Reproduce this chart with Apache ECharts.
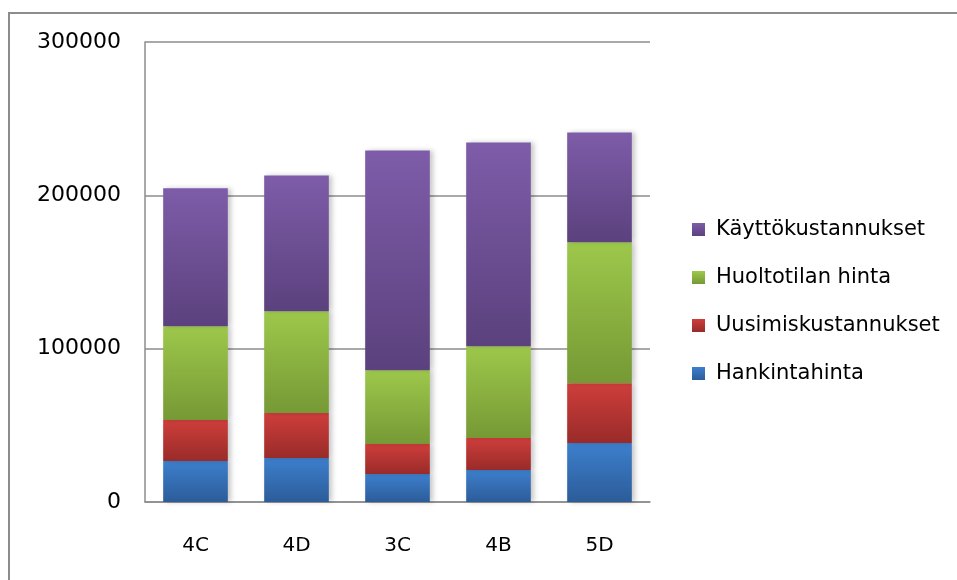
<!DOCTYPE html>
<html>
<head>
<meta charset="utf-8">
<script src="https://cdn.jsdelivr.net/npm/echarts@6/dist/echarts.min.js"></script>
<style>
  html, body { margin: 0; padding: 0; background: #fff; }
  #chart { width: 957px; height: 580px; }
</style>
</head>
<body>
<div id="chart"></div>
<script>
// Vaihtoehdot ja kustannuserät (euroa)
const categories = ['4C', '4D', '3C', '4B', '5D'];
const hankintahinta = [26700, 28700, 18200, 20800, 38400];
const uusimiskustannukset = [26700, 29300, 19600, 20900, 39100];
const huoltotilanHinta = [61300, 66400, 48200, 59900, 91900];
const kayttokustannukset = [89900, 88600, 143300, 132900, 71600];
const yTicks = [0, 100000, 200000, 300000];

const font = 'DejaVu Sans';

function grad(top, bottom) {
  return new echarts.graphic.LinearGradient(0, 0, 0, 1, [
    { offset: 0, color: top },
    { offset: 1, color: bottom }
  ]);
}

function series(name, data, top, bottom) {
  return {
    name: name,
    type: 'bar',
    stack: 'kustannukset',
    data: data,
    barWidth: '64%',
    itemStyle: {
      color: grad(top, bottom),
      shadowColor: 'rgba(0,0,0,0.22)',
      shadowBlur: 5,
      shadowOffsetX: 3,
      shadowOffsetY: 0
    },
    emphasis: { disabled: true }
  };
}

const chart = echarts.init(document.getElementById('chart'), null, { renderer: 'canvas' });
chart.setOption({
  animation: false,
  backgroundColor: '#ffffff',
  graphic: [{
    type: 'rect',
    shape: { x: 9, y: 13, width: 1000, height: 1000 },
    style: { fill: 'none', stroke: '#8c8c8c', lineWidth: 2 },
    silent: true
  }],
  grid: { left: 145, right: 307, top: 42, bottom: 78, containLabel: false },
  legend: {
    orient: 'vertical',
    left: 692,
    top: 219,
    padding: 0,
    itemWidth: 13,
    itemHeight: 13,
    itemGap: 27,
    icon: 'rect',
    textStyle: { fontFamily: font, fontSize: 21, color: '#000', padding: [0, 0, 0, 6] },
    data: ['Käyttökustannukset', 'Huoltotilan hinta', 'Uusimiskustannukset', 'Hankintahinta']
  },
  xAxis: {
    type: 'category',
    data: categories,
    axisLine: { lineStyle: { color: '#8c8c8c', width: 1.5 } },
    axisTick: { show: false },
    axisLabel: { fontFamily: font, fontSize: 20, color: '#000', margin: 34 }
  },
  yAxis: {
    type: 'value',
    min: yTicks[0],
    max: yTicks[yTicks.length - 1],
    interval: 100000,
    axisLine: { show: true, lineStyle: { color: '#8c8c8c', width: 1.5 } },
    axisTick: { show: false },
    splitLine: { lineStyle: { color: '#8c8c8c', width: 1.5 } },
    axisLabel: {
      fontFamily: font, fontSize: 22, color: '#000', margin: 24,
      formatter: function (v) { return String(v); }
    }
  },
  series: [
    series('Hankintahinta', hankintahinta, '#3d7fcd', '#2c5c99'),
    series('Uusimiskustannukset', uusimiskustannukset, '#ce3e3b', '#992b29'),
    series('Huoltotilan hinta', huoltotilanHinta, '#9dc84b', '#769935'),
    series('Käyttökustannukset', kayttokustannukset, '#7e5ca9', '#5b417d')
  ]
});
</script>
</body>
</html>
